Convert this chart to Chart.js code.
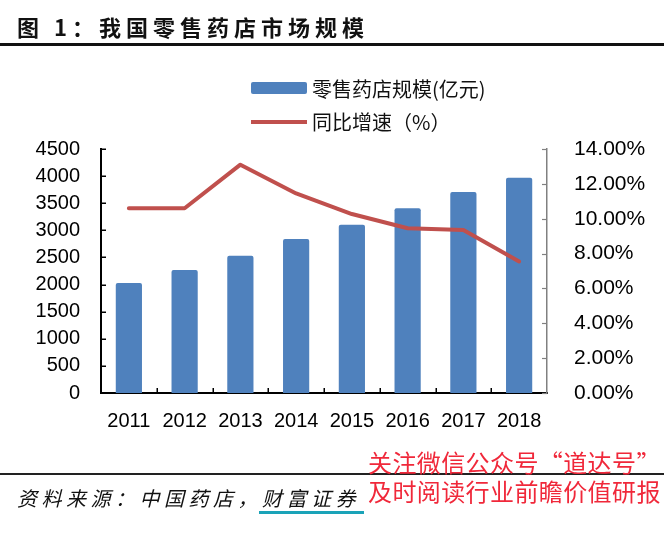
<!DOCTYPE html>
<html>
<head>
<meta charset="utf-8">
<script src="https://cdn.jsdelivr.net/npm/chart.js@4.4.1/dist/chart.umd.min.js"></script>
<style>
  html, body { margin:0; padding:0; background:#fff; }
  #wrap { position:relative; width:664px; height:537px; overflow:hidden; background:#fff; }
  canvas { position:absolute; left:0; top:0; }
  .title { position:absolute; left:17px; top:11px; font-family:"Noto Sans CJK SC"; font-weight:700; font-size:22px; letter-spacing:5px; color:#111; white-space:nowrap; line-height:30px; }
  .topline { position:absolute; left:0; top:43px; width:664px; height:3px; background:#111; }
  .botline { position:absolute; left:0; top:473px; width:664px; height:2px; background:#222; }
  .source { position:absolute; left:17px; top:484px; font-family:"Noto Sans CJK SC"; font-size:20px; font-style:italic; letter-spacing:4.5px; color:#111; white-space:nowrap; line-height:28px; }
  .uline { position:absolute; left:259px; top:511px; width:105px; height:3px; background:#1aa3b8; }
  .red { position:absolute; left:368px; font-family:"Noto Sans CJK SC"; font-size:24px; color:#f0283a; white-space:nowrap; line-height:30px; letter-spacing:0.4px; }
  .leg { position:absolute; left:251px; font-family:"Noto Sans CJK SC"; font-size:20px; color:#111; white-space:nowrap; line-height:26px; }
  .sw { position:absolute; }
</style>
</head>
<body>
<div id="wrap">
  <canvas id="c" width="664" height="537"></canvas>
  <div class="title">图 1：我国零售药店市场规模</div>
  <div class="topline"></div>
  <div class="sw" style="left:251px;top:82px;width:56px;height:12px;background:#4F81BD;border-radius:2px;"></div>
  <div class="leg" style="left:312px;top:76px;">零售药店规模(亿元)</div>
  <div class="sw" style="left:251px;top:120px;width:56px;height:4px;background:#C0504D;"></div>
  <div class="leg" style="left:312px;top:109px;">同比增速（%）</div>
  <div class="botline"></div>
  <div class="source">资料来源：中国药店，财富证券</div>
  <div class="uline"></div>
  <div class="red" style="top:447px;">关注微信公众号“道达号”</div>
  <div class="red" style="top:476px;">及时阅读行业前瞻价值研报</div>
</div>
<script>
const categories = ['2011','2012','2013','2014','2015','2016','2017','2018'];
const marketSize = [2030, 2268, 2532, 2840, 3104, 3406, 3707, 3971];
const growthPct = [10.6, 10.6, 13.1, 11.45, 10.27, 9.45, 9.35, 7.55];
const leftTicks = [0,500,1000,1500,2000,2500,3000,3500,4000,4500];
const rightTicks = [0,2,4,6,8,10,12,14];

const innerTicks = {
  id:'innerTicks',
  afterDraw(chart){
    const {ctx, scales:{x,y,y1}, chartArea} = chart;
    ctx.save();
    ctx.lineWidth = 1.5;
    ctx.strokeStyle = '#000';
    leftTicks.forEach(v=>{
      const py = Math.round(y.getPixelForValue(v))+0.25;
      ctx.beginPath(); ctx.moveTo(chartArea.left, py); ctx.lineTo(chartArea.left+5, py); ctx.stroke();
    });
    for(let i=1;i<categories.length;i++){
      const px = Math.round((x.getPixelForValue(i-1)+x.getPixelForValue(i))/2)+0.25;
      ctx.beginPath(); ctx.moveTo(px, chartArea.bottom); ctx.lineTo(px, chartArea.bottom-5); ctx.stroke();
    }
    ctx.strokeStyle = '#808080';
    ctx.lineWidth = 1.2;
    rightTicks.forEach(v=>{
      const py = Math.round(y1.getPixelForValue(v))+0.5;
      ctx.beginPath(); ctx.moveTo(chartArea.right, py); ctx.lineTo(chartArea.right-5, py); ctx.stroke();
    });
    ctx.restore();
  }
};

new Chart(document.getElementById('c'), {
  data: {
    labels: categories,
    datasets: [
      { type:'line', label:'同比增速（%）', data: growthPct, yAxisID:'y1', borderColor:'#C0504D', borderWidth:4, pointRadius:0, tension:0, order:0, borderJoinStyle:'round', borderCapStyle:'round' },
      { type:'bar', label:'零售药店规模(亿元)', data: marketSize, yAxisID:'y', backgroundColor:'#4F81BD', borderRadius:2, borderSkipped:'bottom', categoryPercentage:1, barPercentage:0.47, order:1 }
    ]
  },
  options: {
    responsive:false,
    animation:false,
    layout:{ padding:{ top:149, bottom:104, left:0, right:0 } },
    plugins:{ legend:{ display:false }, tooltip:{ enabled:false } },
    scales:{
      x:{
        grid:{ display:false, drawTicks:false },
        border:{ display:true, color:'#000', width:2 },
        ticks:{ color:'#000', font:{ family:'Liberation Sans', size:20 }, padding:16, maxRotation:0 },
        afterFit(s){ s.height = 40; }
      },
      y:{
        position:'left', min:0, max:4500,
        grid:{ display:false, drawTicks:false },
        border:{ display:true, color:'#000', width:2 },
        ticks:{ stepSize:500, color:'#000', font:{ family:'Liberation Sans', size:20 }, padding:21, callback:v=>String(v) },
        afterFit(s){ s.width = 101; }
      },
      y1:{
        position:'right', min:0, max:14,
        grid:{ display:false, drawTicks:false },
        border:{ display:true, color:'#808080', width:1.5 },
        ticks:{ stepSize:2, color:'#000', font:{ family:'Liberation Sans', size:21 }, padding:27, callback:v=>Number(v).toFixed(2)+'%' },
        afterFit(s){ s.width = 117; }
      }
    }
  },
  plugins:[innerTicks]
});
</script>
</body>
</html>
